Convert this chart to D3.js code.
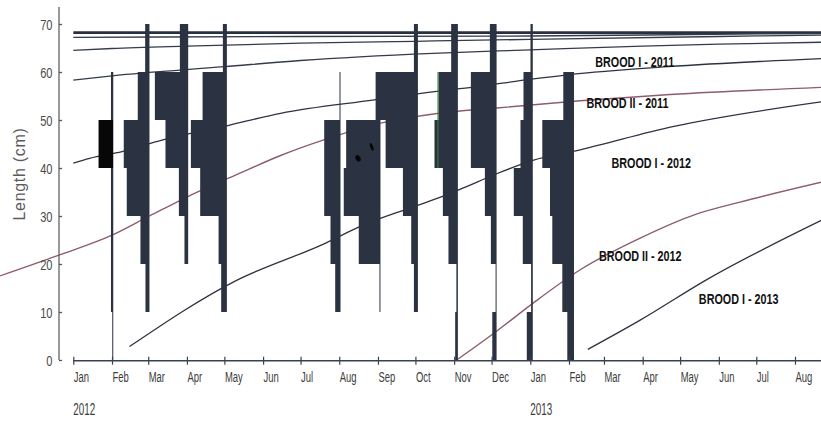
<!DOCTYPE html>
<html><head><meta charset="utf-8">
<script src="https://cdn.jsdelivr.net/npm/d3@7"></script>
<style>
html,body{margin:0;padding:0;background:#fff;}
svg{display:block;}
</style></head><body>
<svg id="chart" width="821" height="421"></svg>
<script>
// ---------- DATA ----------
const monthTicks = ["2012-01-01","2012-02-01","2012-03-01","2012-04-01","2012-05-01","2012-06-01","2012-07-01","2012-08-01","2012-09-01","2012-10-01","2012-11-01","2012-12-01","2013-01-01","2013-02-01","2013-03-01","2013-04-01","2013-05-01","2013-06-01","2013-07-01","2013-08-01"];
const monthLabels = ["Jan","Feb","Mar","Apr","May","Jun","Jul","Aug","Sep","Oct","Nov","Dec","Jan","Feb","Mar","Apr","May","Jun","Jul","Aug"];
const yearLabels = ["2012","2013"];
const yearDates = ["2012-01-01","2013-01-01"];
const yTicks = [0,10,20,30,40,50,60,70];
const yTitle = "Length (cm)";

// length classes (lower bounds, 10 cm wide)
const lengthClasses = [0,10,20,30,40,50,60];
// sampling dates
const sampleDates = ["2012-02-02","2012-03-02","2012-04-02","2012-05-03","2012-08-02","2012-09-03","2012-10-03","2012-11-04","2012-12-05","2013-01-03","2013-02-05"];
// relative frequency per length class (0-10 ... 60-70) for each sample
const sampleFreqs = [
  [1.0, 2.3, 2.3, 2.3, 14.7, 2.3, 0],
  [0, 4.0, 9.0, 22.7, 25.7, 11.7, 4.3],
  [0, 0, 3.7, 9.3, 22.7, 33.3, 8.3],
  [0, 5.7, 8.3, 26.7, 36.0, 24.3, 4.0],
  [0, 5.3, 10.0, 16.3, 16.3, 1.0, 0],
  [0, 1.0, 21.7, 36.7, 34.3, 0, 0],
  [0, 4.0, 6.7, 15.0, 32.3, 42.3, 4.0],
  [2.7, 1.5, 9.4, 15.0, 23.4, 19.4, 6.7],
  [4.3, 1.0, 5.7, 11.7, 25.7, 25.7, 6.7],
  [6.0, 1.7, 10.0, 19.0, 12.3, 9.3, 2.3],
  [6.7, 11.7, 21.7, 24.0, 31.7, 10.7, 0]
];
const darkCells = [["2012-02-02", 40]];

// growth curves [date, length cm]
const cohortA = [["2012-01-01",68.2],["2013-08-23",68.2]];
const cohortB = [["2012-01-01",67.2],["2012-07-01",67.4],["2013-01-01",67.5],["2013-06-15",67.9],["2013-08-23",68.0]];
const cohortC = [["2012-01-01",64.5],["2012-02-01",64.9],["2012-04-01",65.4],["2012-07-01",66.0],["2012-10-01",66.4],["2013-01-01",66.8],["2013-06-01",67.4],["2013-08-23",67.7]];
const cohortD = [["2012-01-01",58.3],["2012-02-01",59.2],["2012-05-01",61.1],["2012-07-01",62.4],["2012-10-15",63.9],["2013-01-01",64.6],["2013-04-01",65.4],["2013-06-01",65.8],["2013-08-23",66.2]];
const broodI2011 = [["2012-01-01",41.0],["2012-01-14",42.0],["2012-02-09",43.4],["2012-03-12",45.8],["2012-05-03",48.8],["2012-06-15",51.4],["2012-08-29",54.2],["2012-10-07",55.6],["2012-11-21",57.0],["2013-01-02",58.5],["2013-01-31",59.4],["2013-04-21",61.1],["2013-08-23",62.8]];
const broodII2011 = [["2011-11-03",17.5],["2011-12-20",21.8],["2012-02-01",26.0],["2012-03-02",30.0],["2012-04-11",35.2],["2012-05-09",38.4],["2012-06-15",42.6],["2012-07-19",45.8],["2012-09-04",49.4],["2012-10-17",51.3],["2012-12-05",52.5],["2013-02-10",54.0],["2013-04-23",55.3],["2013-08-23",56.8]];
const broodI2012 = [["2012-02-15",2.8],["2012-05-10",16.5],["2012-07-18",24.0],["2012-08-22",28.3],["2012-09-27",31.7],["2012-10-29",34.7],["2012-11-09",35.9],["2012-12-05",38.8],["2013-01-03",41.6],["2013-02-10",43.8],["2013-04-25",48.6],["2013-08-23",53.8]];
const broodII2012 = [["2012-11-03",0.0],["2012-12-05",6.0],["2013-01-03",11.8],["2013-02-10",18.8],["2013-03-30",25.4],["2013-05-14",30.4],["2013-06-18",32.9],["2013-08-23",37.1]];
const broodI2013 = [["2013-02-16",2.2],["2013-03-30",8.3],["2013-05-22",16.7],["2013-08-23",29.2]];

const curveNames = ["BROOD I - 2011","BROOD II - 2011","BROOD I - 2012","BROOD II - 2012","BROOD I - 2013"];
// label anchor (date of left edge, length at baseline)
const curveLabelAnchors = [["2013-02-22",61.0],["2013-02-15",52.5],["2013-03-07",40.0],["2013-02-25",20.6],["2013-05-16",11.7]];

const specks = [["2012-08-16",42.0],["2012-08-27",44.4]];
const greenMark = {date:"2012-11-04", from:40, to:60};

// ---------- CHART ----------
const W = 821, H = 421;
const parse = d3.timeParse("%Y-%m-%d");
const svg = d3.select("#chart");
const x = d3.scaleTime().domain([parse("2012-01-01"), parse("2013-08-01")]).range([73.3, 795]);
const y = d3.scaleLinear().domain([0,70]).range([360,24]);
const w = d3.scaleLinear().domain([0,50]).range([0,50]);
const FONT = "'Liberation Sans', Arial, Helvetica, sans-serif";

// curves
const line = d3.line().x(d => x(parse(d[0]))).y(d => y(d[1])).curve(d3.curveMonotoneX);
const curves = [
  {data: cohortA, color:"#283041", width:2.6},
  {data: cohortB, color:"#343b4a", width:1.3},
  {data: cohortC, color:"#343b4a", width:1.3},
  {data: cohortD, color:"#343b4a", width:1.3},
  {data: broodI2011, color:"#2e3340", width:1.3},
  {data: broodII2011, color:"#8d5c70", width:1.4},
  {data: broodI2012, color:"#2e3340", width:1.3},
  {data: broodII2012, color:"#8d5c70", width:1.4},
  {data: broodI2013, color:"#2e3340", width:1.3}
];
svg.append("g").selectAll("path").data(curves).join("path")
  .attr("d", c => line(c.data)).attr("fill","none")
  .attr("stroke", c => c.color).attr("stroke-width", c => c.width);

// histogram bars
const cells = [];
sampleDates.forEach((sd, i) => {
  sampleFreqs[i].forEach((f, j) => {
    if (f > 0) cells.push({date: sd, lo: lengthClasses[j], f,
      dark: darkCells.some(dc => dc[0] === sd && dc[1] === lengthClasses[j])});
  });
});
svg.append("g").selectAll("rect").data(cells).join("rect")
  .attr("x", d => x(parse(d.date)) - w(d.f))
  .attr("y", d => y(d.lo + 10))
  .attr("width", d => w(d.f))
  .attr("height", d => y(d.lo) - y(d.lo + 10))
  .attr("fill", d => d.dark ? "#070707" : "#2b3242");

// green mark
{
  const si = sampleDates.indexOf(greenMark.date);
  const gx = x(parse(greenMark.date)) - w(sampleFreqs[si][5]) - 0.5;
  svg.append("line").attr("x1", gx).attr("x2", gx)
    .attr("y1", y(greenMark.to)).attr("y2", y(greenMark.from))
    .attr("stroke", "#2e8b2e").attr("stroke-width", 1);
}
// specks
svg.append("g").selectAll("ellipse").data(specks).join("ellipse")
  .attr("transform", (d,i) => `translate(${x(parse(d[0]))},${y(d[1])}) rotate(${i ? -20 : -30})`)
  .attr("rx", (d,i) => i ? 1.4 : 2.4).attr("ry", (d,i) => i ? 4 : 3.4)
  .attr("fill", "#050505");

// y axis
const yAxisG = svg.append("g").attr("transform", "translate(59,0)");
yAxisG.append("line").attr("x1",0).attr("x2",0).attr("y1",7).attr("y2",y(0))
  .attr("stroke","#555").attr("stroke-width",1.2);
yAxisG.call(d3.axisLeft(y).tickValues(yTicks).tickSize(-3).tickSizeOuter(0));
yAxisG.select(".domain").remove();
yAxisG.selectAll(".tick line").attr("stroke","#555").attr("stroke-width",1.3);
yAxisG.selectAll(".tick text")
  .attr("x",0).attr("dy","0.36em").attr("text-anchor","end")
  .attr("transform","translate(-6.5,0) scale(0.74,1)")
  .attr("font-family", FONT).attr("font-size", 15).attr("fill","#4a4a4a");

// x axis
const xAxisG = svg.append("g").attr("transform", "translate(0,360.7)");
xAxisG.append("line").attr("x1", x.range()[0]).attr("x2", W).attr("y1",0).attr("y2",0)
  .attr("stroke","#3a4150").attr("stroke-width",1.6);
xAxisG.call(d3.axisBottom(x).tickValues(monthTicks.map(parse)).tickSize(4)
  .tickFormat((d,i) => monthLabels[i]));
xAxisG.select(".domain").remove();
xAxisG.selectAll(".tick line").attr("y1",-4).attr("y2",4).attr("stroke","#3a4150").attr("stroke-width",1.2);
xAxisG.selectAll(".tick text")
  .attr("x",0).attr("y",0).attr("dy",0).attr("text-anchor","start")
  .attr("transform","translate(0,21.5) scale(0.63,1)")
  .attr("font-family", FONT).attr("font-size", 15).attr("fill","#3c3c3c");

// year labels
svg.append("g").selectAll("text").data(yearLabels).join("text")
  .attr("transform", (d,i) => `translate(${x(parse(yearDates[i]))},414.5) scale(0.58,1)`)
  .attr("font-family", FONT).attr("font-size", 17).attr("fill","#3c3c3c")
  .text(d => d);

// y title
svg.append("text")
  .attr("transform", `translate(25,${(y(0)+y(70))/2 - 18}) rotate(-90)`)
  .attr("text-anchor","middle")
  .attr("font-family", FONT).attr("font-size", 16).attr("letter-spacing", 0.7)
  .attr("fill","#5a5a5a").text(yTitle);

// curve labels
svg.append("g").selectAll("text").data(curveNames).join("text")
  .attr("transform", (d,i) => `translate(${x(parse(curveLabelAnchors[i][0]))},${y(curveLabelAnchors[i][1])}) scale(0.77,1)`)
  .attr("font-family", FONT).attr("font-size", 14).attr("font-weight","bold")
  .attr("fill","#111").text(d => d);
</script>
</body></html>
